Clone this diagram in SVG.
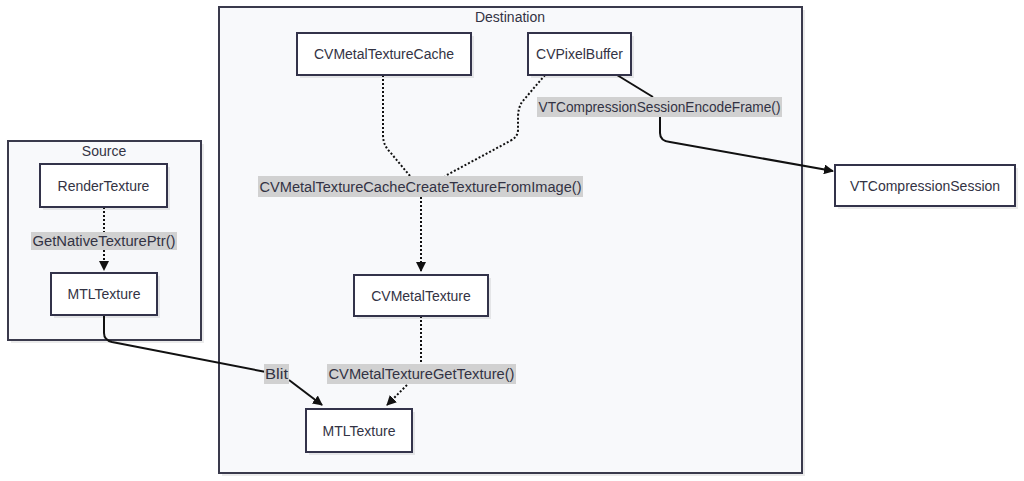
<svg xmlns="http://www.w3.org/2000/svg" width="1024" height="481" viewBox="0 0 1024 481">
<defs>
<style>
.cluster{fill:#f8f9fb;stroke:#3a3a4c;stroke-width:2}
.node{fill:#ffffff;stroke:#33334a;stroke-width:2}
.shadow{fill:#000;opacity:0.08}
.t{font-family:"Liberation Sans",Arial,sans-serif;font-size:14px;fill:#333344;text-anchor:middle;dominant-baseline:central}
.lbl{fill:#cfcfcf;opacity:0.95}
.solid{fill:none;stroke:#111;stroke-width:2}
.dot{fill:none;stroke:#111;stroke-width:2;stroke-dasharray:2 2}
</style>
<marker id="arr" viewBox="0 0 10 10" refX="9" refY="5" markerWidth="10" markerHeight="10" markerUnits="userSpaceOnUse" orient="auto">
<path d="M0,0 L10,5 L0,10 z" fill="#111"/>
</marker>
</defs>
<rect width="1024" height="481" fill="#ffffff"/>
<g id="cluster-source">
<rect class="shadow" x="11" y="144" width="193" height="199"/>
<rect class="cluster" x="8" y="141" width="193" height="199"/>
<text class="t" x="104" y="151">Source</text>
</g>
<g id="cluster-destination">
<rect class="shadow" x="222" y="10" width="583" height="466"/>
<rect class="cluster" x="219" y="7" width="583" height="466"/>
<text class="t" x="510" y="17">Destination</text>
</g>
<g id="connectors">
<path class="dot" d="M104,207 L104,232"/>
<path class="dot" d="M104,250 L104,270" marker-end="url(#arr)"/>
<path class="solid" d="M104,315 L104,333 Q104,340 112,342 L266,372"/>
<path class="solid" d="M289,380 L322,405" marker-end="url(#arr)"/>
<path class="dot" d="M383,75 L383,135 Q383,145 390,152 L410,176"/>
<path class="dot" d="M545,75 L522,102 Q518,108 518,118 L518,130 Q518,137 510,141 L445,176"/>
<path class="dot" d="M421,197 L421,271" marker-end="url(#arr)"/>
<path class="solid" d="M617,75 L653,97"/>
<path class="solid" d="M660,117 L660,133 Q660,141 670,142 L833,171" marker-end="url(#arr)"/>
<path class="dot" d="M421,316 L421,364"/>
<path class="dot" d="M407,385 L387,405" marker-end="url(#arr)"/>
</g>
<g id="edge-labels">
<rect class="lbl" x="31" y="232" width="146" height="18"/>
<text class="t" x="104" y="241" textLength="143" lengthAdjust="spacingAndGlyphs">GetNativeTexturePtr()</text>
<rect class="lbl" x="258" y="176" width="325" height="21"/>
<text class="t" x="420.5" y="186.5" textLength="322" lengthAdjust="spacingAndGlyphs">CVMetalTextureCacheCreateTextureFromImage()</text>
<rect class="lbl" x="537" y="97" width="245" height="20"/>
<text class="t" x="659.5" y="107" textLength="242" lengthAdjust="spacingAndGlyphs">VTCompressionSessionEncodeFrame()</text>
<rect class="lbl" x="327" y="364" width="189" height="20"/>
<text class="t" x="421.5" y="374" textLength="186" lengthAdjust="spacingAndGlyphs">CVMetalTextureGetTexture()</text>
<rect class="lbl" x="264" y="364" width="25" height="20"/>
<text class="t" x="276.5" y="374" textLength="23" lengthAdjust="spacingAndGlyphs">Blit</text>
</g>
<g id="node-rendertexture">
<rect class="shadow" x="43" y="167" width="127" height="43"/>
<rect class="node" x="40" y="164" width="127" height="43"/>
<text class="t" x="103.5" y="185.5">RenderTexture</text>
</g>
<g id="node-mtltexture-src">
<rect class="shadow" x="54" y="276" width="106" height="42"/>
<rect class="node" x="51" y="273" width="106" height="42"/>
<text class="t" x="104" y="294">MTLTexture</text>
</g>
<g id="node-cvmetaltexturecache">
<rect class="shadow" x="300" y="36" width="174" height="42"/>
<rect class="node" x="297" y="33" width="174" height="42"/>
<text class="t" x="384" y="54">CVMetalTextureCache</text>
</g>
<g id="node-cvpixelbuffer">
<rect class="shadow" x="531" y="36" width="103" height="42"/>
<rect class="node" x="528" y="33" width="103" height="42"/>
<text class="t" x="579.5" y="54">CVPixelBuffer</text>
</g>
<g id="node-cvmetaltexture">
<rect class="shadow" x="357" y="278" width="134" height="41"/>
<rect class="node" x="354" y="275" width="134" height="41"/>
<text class="t" x="421" y="295.5">CVMetalTexture</text>
</g>
<g id="node-mtltexture-dst">
<rect class="shadow" x="309" y="412" width="106" height="43"/>
<rect class="node" x="306" y="409" width="106" height="43"/>
<text class="t" x="359" y="430.5">MTLTexture</text>
</g>
<g id="node-vtcompressionsession">
<rect class="shadow" x="838" y="168" width="180" height="41"/>
<rect class="node" x="835" y="165" width="180" height="41"/>
<text class="t" x="925" y="185.5">VTCompressionSession</text>
</g>
</svg>
